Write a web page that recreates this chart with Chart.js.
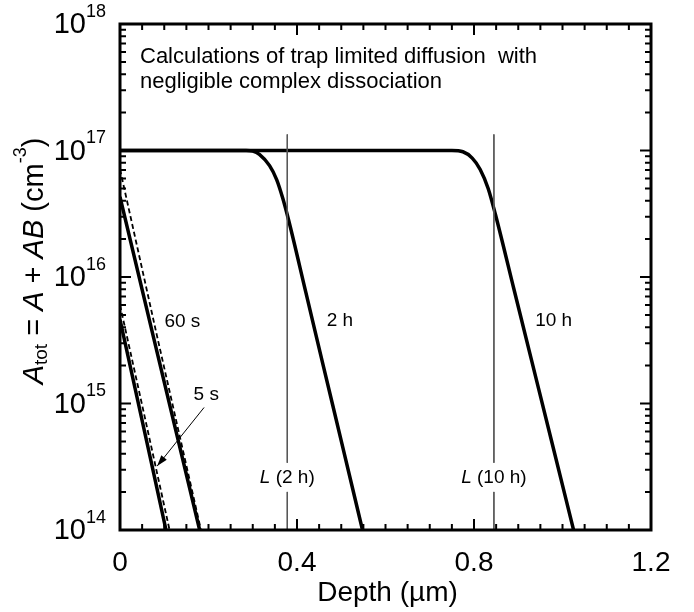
<!DOCTYPE html>
<html>
<head>
<meta charset="utf-8">
<script src="https://cdn.jsdelivr.net/npm/chart.js@4.4.0/dist/chart.umd.min.js"></script>
<style>
  html, body { margin: 0; padding: 0; background: #fff; }
  #wrap { width: 694px; height: 612px; }
</style>
</head>
<body>
<div id="wrap"><canvas id="chart" width="694" height="612"></canvas></div>
<script>
// depth in um, concentration in cm^-3
const depth5sSolid = [0, 0.071, 0.104];
const conc5sSolid = [4.6e15, 3.4e14, 1e14];
const depth5sDashed = [0, 0.056, 0.112];
const conc5sDashed = [6.0e15, 7.8e14, 1e14];

const depth60sSolid = [0, 0.077, 0.18];
const conc60sSolid = [4.3e16, 3.2e15, 1e14];
const depth60sDashed = [0, 0.083, 0.183];
const conc60sDashed = [7.1e16, 3.5e15, 1e14];

const depth2h = [0, 0.285, 0.30, 0.315, 0.338, 0.354, 0.368, 0.381, 0.42, 0.46, 0.50, 0.548];
const conc2h = [1e17, 1e17, 9.89e16, 9.33e16, 7.59e16, 5.89e16, 4.17e16, 2.82e16, 7.55e15, 1.95e15, 5.07e14, 1e14];

const depth10h = [0, 0.75, 0.775, 0.796, 0.814, 0.832, 0.848, 0.89, 0.93, 0.975, 1.025];
const conc10h = [1e17, 1e17, 9.77e16, 8.7e16, 7.08e16, 5.01e16, 3.16e16, 8.07e15, 2.2e15, 5.1e14, 1e14];

// diffusion lengths L marked by vertical lines
const lengthDepths = [0.378, 0.845];
const lengthLabels = ["(2 h)", "(10 h)"];

const curveLabels = [
  { text: "60 s", x: 0.141, y: 4.4e15 },
  { text: "2 h", x: 0.497, y: 4.5e15 },
  { text: "10 h", x: 0.98, y: 4.5e15 },
  { text: "5 s", x: 0.195, y: 1.17e15 },
];
const arrowFrom = { x: 0.19, y: 9.3e14 };
const arrowTo = { x: 0.084, y: 3.2e14 };

const xTickValues = [0, 0.4, 0.8, 1.2];
const xTickLabels = ["0", "0.4", "0.8", "1.2"];
const yTickExponents = [14, 15, 16, 17, 18];

const titleLines = [
  "Calculations of trap limited diffusion  with",
  "negligible complex dissociation",
];

const FONT = '"Liberation Sans", Arial, Helvetica, sans-serif';

function pts(xs, ys) {
  return xs.map((x, i) => ({ x, y: ys[i] }));
}

function lengthLine(d) {
  return [
    { x: d, y: 1.34e17 },
    { x: d, y: 3.4e14 },
    { x: d, y: null },
    { x: d, y: 2.0e14 },
    { x: d, y: 1e14 },
  ];
}

const solid = { borderColor: "#000", borderWidth: 3.5, pointRadius: 0, fill: false };
const dashed = { borderColor: "#000", borderWidth: 1.8, borderDash: [5, 3], pointRadius: 0, fill: false };

const decor = {
  id: "decor",
  afterDatasetsDraw(chart) {
    const { ctx, chartArea: a, scales } = chart;
    const xs = scales.x, ys = scales.y;
    ctx.save();

    // frame
    ctx.strokeStyle = "#000";
    ctx.lineWidth = 3;
    ctx.strokeRect(a.left, a.top, a.right - a.left, a.bottom - a.top);

    // x ticks, inward on bottom and top
    ctx.lineWidth = 2;
    for (let i = 0; i <= 24; i++) {
      const v = i * 0.05;
      const px = xs.getPixelForValue(v);
      const len = i % 8 === 0 ? 11 : 6;
      ctx.beginPath();
      ctx.moveTo(px, a.bottom); ctx.lineTo(px, a.bottom - len);
      ctx.moveTo(px, a.top); ctx.lineTo(px, a.top + len);
      ctx.stroke();
    }
    // y ticks, inward on left and right
    for (let e = 14; e < 18; e++) {
      for (let m = 1; m <= 9; m++) {
        const py = ys.getPixelForValue(m * Math.pow(10, e));
        const len = m === 1 ? 11 : 6;
        ctx.beginPath();
        ctx.moveTo(a.left, py); ctx.lineTo(a.left + len, py);
        ctx.moveTo(a.right, py); ctx.lineTo(a.right - len, py);
        ctx.stroke();
      }
    }

    ctx.fillStyle = "#000";
    // x tick labels
    ctx.font = "28px " + FONT;
    ctx.textAlign = "center";
    ctx.textBaseline = "middle";
    xTickValues.forEach((v, i) => {
      ctx.fillText(xTickLabels[i], xs.getPixelForValue(v), a.bottom + 33);
    });

    // y tick labels 10^n
    yTickExponents.forEach((e) => {
      const py = ys.getPixelForValue(Math.pow(10, e));
      ctx.font = "29px " + FONT;
      ctx.textAlign = "right";
      ctx.textBaseline = "middle";
      ctx.fillText("10", 86, py + 1);
      ctx.font = "18px " + FONT;
      ctx.textAlign = "left";
      ctx.fillText(String(e), 86, py - 12);
    });

    // x axis title
    ctx.font = "28px " + FONT;
    ctx.textAlign = "center";
    ctx.textBaseline = "middle";
    ctx.fillText("Depth (\u00b5m)", (a.left + a.right) / 2 + 2, a.bottom + 63);

    // y axis title, rotated
    const parts = [
      { t: "A", size: 29, italic: true, dy: 0 },
      { t: "tot", size: 19, dy: 4 },
      { t: " = ", size: 29, dy: 0 },
      { t: "A", size: 29, italic: true, dy: 0 },
      { t: " + ", size: 29, dy: 0 },
      { t: "AB", size: 29, italic: true, dy: 0 },
      { t: " (cm", size: 29, dy: 0 },
      { t: "-3", size: 18, dy: -17 },
      { t: ")", size: 29, dy: 0 },
    ];
    const fontOf = (p) => (p.italic ? "italic " : "") + p.size + "px " + FONT;
    let total = 0;
    parts.forEach((p) => { ctx.font = fontOf(p); total += ctx.measureText(p.t).width; });
    ctx.save();
    ctx.translate(43, 261);
    ctx.rotate(-Math.PI / 2);
    ctx.textAlign = "left";
    ctx.textBaseline = "alphabetic";
    let cx = -total / 2;
    parts.forEach((p) => {
      ctx.font = fontOf(p);
      ctx.fillText(p.t, cx, p.dy);
      cx += ctx.measureText(p.t).width;
    });
    ctx.restore();

    // title text in the plot
    ctx.font = "22px " + FONT;
    ctx.textAlign = "left";
    ctx.textBaseline = "middle";
    titleLines.forEach((line, i) => ctx.fillText(line, 140, 57 + i * 25));

    // curve labels
    ctx.font = "19px " + FONT;
    ctx.textAlign = "center";
    curveLabels.forEach((l) => {
      ctx.fillText(l.text, xs.getPixelForValue(l.x), ys.getPixelForValue(l.y));
    });

    // L (..) labels
    lengthDepths.forEach((d, i) => {
      const px = xs.getPixelForValue(d);
      const py = ys.getPixelForValue(2.6e14);
      ctx.font = "19px " + FONT;
      const restW = ctx.measureText(" " + lengthLabels[i]).width;
      ctx.font = "italic 19px " + FONT;
      const lW = ctx.measureText("L").width;
      const start = px - (lW + restW) / 2;
      ctx.textAlign = "left";
      ctx.fillText("L", start, py);
      ctx.font = "19px " + FONT;
      ctx.fillText(" " + lengthLabels[i], start + lW, py);
    });

    // arrow to the 5 s dashed curve
    const x0 = xs.getPixelForValue(arrowFrom.x), y0 = ys.getPixelForValue(arrowFrom.y);
    const x1 = xs.getPixelForValue(arrowTo.x), y1 = ys.getPixelForValue(arrowTo.y);
    ctx.lineWidth = 1;
    ctx.beginPath();
    ctx.moveTo(x0, y0); ctx.lineTo(x1, y1);
    ctx.stroke();
    const ang = Math.atan2(y1 - y0, x1 - x0);
    ctx.beginPath();
    ctx.moveTo(x1, y1);
    ctx.lineTo(x1 - 11 * Math.cos(ang) + 3.5 * Math.sin(ang), y1 - 11 * Math.sin(ang) - 3.5 * Math.cos(ang));
    ctx.lineTo(x1 - 11 * Math.cos(ang) - 3.5 * Math.sin(ang), y1 - 11 * Math.sin(ang) + 3.5 * Math.cos(ang));
    ctx.closePath();
    ctx.fill();

    ctx.restore();
  },
};

new Chart(document.getElementById("chart"), {
  type: "line",
  data: {
    datasets: [
      { label: "L (2 h)", data: lengthLine(lengthDepths[0]), borderColor: "#555", borderWidth: 1, pointRadius: 0, spanGaps: false },
      { label: "L (10 h)", data: lengthLine(lengthDepths[1]), borderColor: "#555", borderWidth: 1, pointRadius: 0, spanGaps: false },
      { label: "5 s dashed", data: pts(depth5sDashed, conc5sDashed), ...dashed },
      { label: "5 s", data: pts(depth5sSolid, conc5sSolid), ...solid },
      { label: "60 s dashed", data: pts(depth60sDashed, conc60sDashed), ...dashed },
      { label: "60 s", data: pts(depth60sSolid, conc60sSolid), ...solid },
      { label: "2 h", data: pts(depth2h, conc2h), ...solid, cubicInterpolationMode: "monotone" },
      { label: "10 h", data: pts(depth10h, conc10h), ...solid, cubicInterpolationMode: "monotone" },
    ],
  },
  options: {
    responsive: false,
    animation: false,
    devicePixelRatio: 1,
    layout: { padding: { left: 120, top: 24, right: 43, bottom: 82 } },
    plugins: { legend: { display: false }, tooltip: { enabled: false } },
    scales: {
      x: { type: "linear", min: 0, max: 1.2, display: false },
      y: { type: "logarithmic", min: 1e14, max: 1e18, display: false },
    },
  },
  plugins: [decor],
});
</script>
</body>
</html>
